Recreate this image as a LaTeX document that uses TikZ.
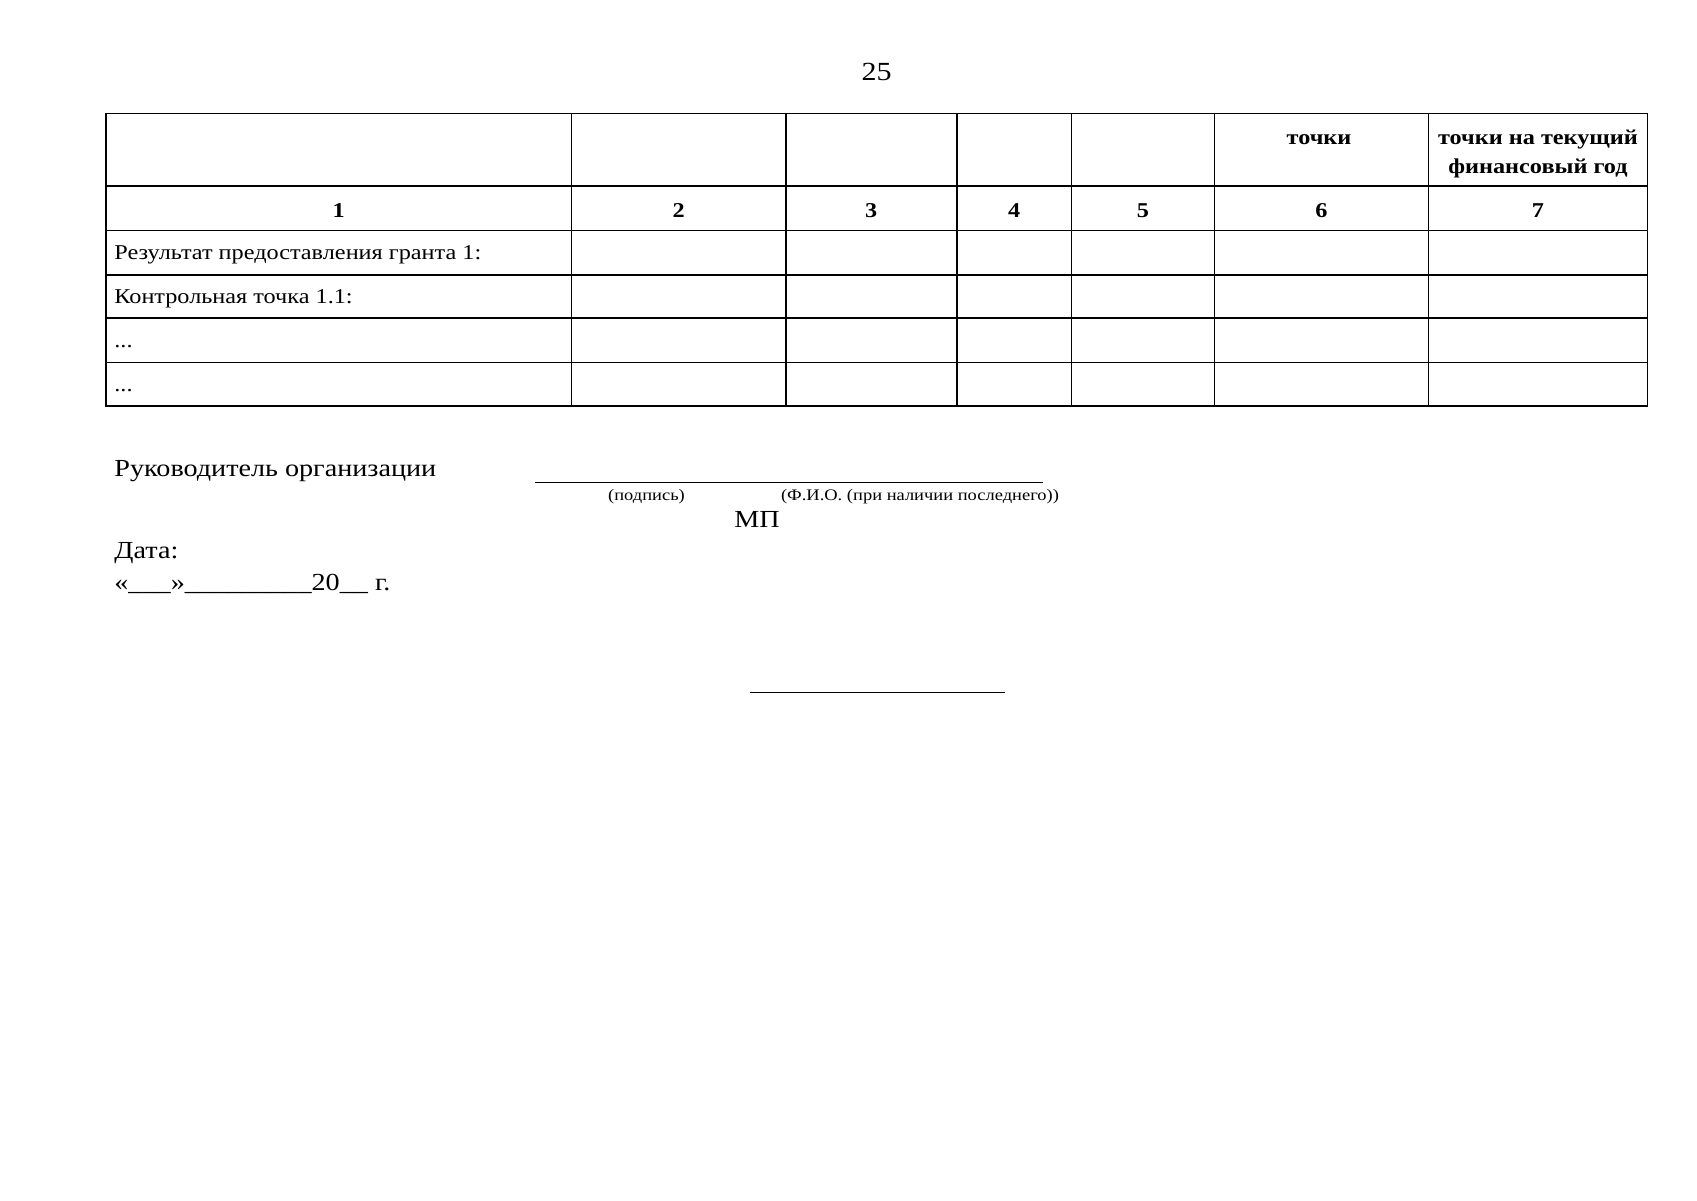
\documentclass[tikz,border=0pt]{standalone}
\usepackage{fontspec}
\setmainfont[FakeStretch=1.15]{Liberation Serif}
\begin{document}
\begin{tikzpicture}[x=0.17501mm,y=-0.17501mm,
  rule/.style={line width=0.75pt},
  sigline/.style={line width=0.6pt},
  celltxt/.style={inner sep=0pt,anchor=base west,font=\fontsize{10.5}{12}\selectfont},
  headtxt/.style={inner sep=0pt,anchor=base,font=\fontsize{10.5}{12}\selectfont\bfseries},
  bodytxt/.style={inner sep=0pt,anchor=base west,font=\fontsize{12.2}{14}\selectfont},
  smalltxt/.style={inner sep=0pt,anchor=base,font=\fontsize{8}{9}\selectfont}]
\path[use as bounding box,fill=white] (0,0) rectangle (1697,1200);

% page number
\node[inner sep=0pt,anchor=base,font=\fontsize{13}{15}\selectfont] (pagenum) at (876.7,80) {25};

% table grid
\draw[rule] (106,113.6) rectangle (1647.3,405.9);
\foreach \x in {571.5,785.8,956.8,1071.5,1214.4,1428.7} \draw[rule] (\x,113.6) -- (\x,405.9);
\foreach \y in {186.2,230.5,274.9,318.2,362.6} \draw[rule] (106,\y) -- (1647.3,\y);

% header
\node[headtxt] (h6) at (1319,144.5) {точки};
\node[headtxt] (h7a) at (1538,144.5) {точки на текущий};
\node[headtxt] (h7b) at (1538,173.5) {финансовый год};

% column numbers
\node[headtxt] (n1) at (338.8,217) {1};
\node[headtxt] (n2) at (678.6,217) {2};
\node[headtxt] (n3) at (871.3,217) {3};
\node[headtxt] (n4) at (1014.2,217) {4};
\node[headtxt] (n5) at (1143,217) {5};
\node[headtxt] (n6) at (1321.5,217) {6};
\node[headtxt] (n7) at (1538,217) {7};

% rows
\node[celltxt] (r1) at (114,259.5) {Результат предоставления гранта 1:};
\node[celltxt] (r2) at (114,303.5) {Контрольная точка 1.1:};
\node[celltxt] (r3) at (114,347.3) {...};
\node[celltxt] (r4) at (114,391.7) {...};

% signature block
\node[bodytxt] (head) at (114,476.7) {Руководитель организации};
\coordinate (s1) at (535,482.3);
\coordinate (s2) at (1043,482.3);
\draw[sigline] (s1) -- (s2);
\node[smalltxt] (sig) at (646.5,500.3) {(подпись)};
\node[smalltxt] (fio) at (920,500.3) {(Ф.И.О. (при наличии последнего))};
\node[bodytxt,anchor=base] (mp) at (757,527.3) {МП};
\node[bodytxt] (date) at (114,558.3) {Дата:};
\node[bodytxt] (dline) at (114,590) {«\_\_\_»\_\_\_\_\_\_\_\_\_20\_\_ г.};

% bottom rule
\coordinate (b1) at (750,692.5);
\coordinate (b2) at (1005,692.5);
\draw[sigline] (b1) -- (b2);
\end{tikzpicture}
\end{document}
